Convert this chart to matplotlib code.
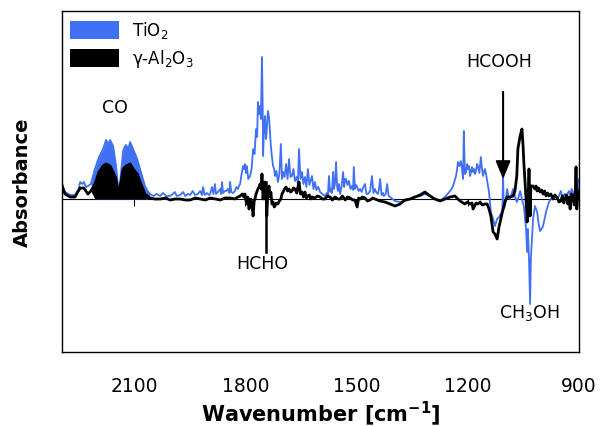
import numpy as np
import matplotlib
matplotlib.use('Agg')
from matplotlib import pyplot as plt
from matplotlib.patches import Patch

# spectra: (wavenumber [cm-1], absorbance [arb. units])
tio2 = [(2295, 0.12), (2287, 0.07), (2273, 0.04), (2260, 0.04), (2250, 0.10), (2246, 0.17),
        (2240, 0.15), (2236, 0.17), (2230, 0.12), (2225, 0.13), (2217, 0.15), (2206, 0.30),
        (2195, 0.42), (2184, 0.50), (2176, 0.59), (2170, 0.55), (2165, 0.59), (2157, 0.53),
        (2149, 0.33), (2144, 0.13), (2138, 0.17), (2130, 0.48), (2126, 0.52), (2122, 0.54),
        (2116, 0.50), (2111, 0.57), (2103, 0.50), (2092, 0.40), (2082, 0.27), (2071, 0.13),
        (2064, 0.08), (2057, 0.05), (2048, 0.03), (2040, 0.05), (2030, 0.03), (2022, 0.06),
        (2014, 0.03), (2003, 0.03), (1996, 0.05), (1990, 0.07), (1985, 0.03), (1976, 0.04),
        (1968, 0.07), (1962, 0.03), (1955, 0.05), (1949, 0.04), (1942, 0.08), (1936, 0.04),
        (1928, 0.05), (1922, 0.08), (1917, 0.04), (1914, 0.12), (1910, 0.04), (1904, 0.06),
        (1898, 0.04), (1895, 0.05), (1890, 0.12), (1886, 0.05), (1882, 0.15), (1879, 0.05),
        (1874, 0.07), (1868, 0.10), (1865, 0.05), (1863, 0.17), (1860, 0.06), (1855, 0.08),
        (1852, 0.08), (1847, 0.10), (1843, 0.06), (1841, 0.17), (1838, 0.07), (1833, 0.06),
        (1828, 0.08), (1824, 0.12), (1820, 0.10), (1816, 0.14), (1814, 0.15), (1810, 0.25),
        (1806, 0.33), (1803, 0.30), (1801, 0.35), (1798, 0.26), (1796, 0.33), (1792, 0.20),
        (1787, 0.23), (1783, 0.30), (1779, 0.50), (1775, 0.45), (1771, 0.70), (1768, 0.62),
        (1766, 0.97), (1763, 0.85), (1760, 0.93), (1758, 0.80), (1755, 1.42), (1753, 0.90),
        (1752, 0.43), (1749, 0.75), (1747, 0.83), (1744, 0.60), (1742, 0.70), (1739, 0.88),
        (1736, 0.82), (1733, 0.65), (1731, 0.53), (1728, 0.42), (1725, 0.33), (1722, 0.30),
        (1720, 0.23), (1716, 0.28), (1712, 0.17), (1708, 0.25), (1704, 0.55), (1701, 0.20),
        (1698, 0.27), (1694, 0.22), (1690, 0.35), (1686, 0.20), (1682, 0.40), (1678, 0.22),
        (1674, 0.23), (1670, 0.30), (1666, 0.18), (1661, 0.22), (1658, 0.15), (1655, 0.50),
        (1651, 0.20), (1647, 0.27), (1643, 0.15), (1639, 0.22), (1635, 0.12), (1631, 0.30),
        (1627, 0.14), (1624, 0.18), (1620, 0.23), (1616, 0.10), (1612, 0.17), (1608, 0.09),
        (1603, 0.12), (1598, 0.07), (1592, 0.05), (1585, 0.03), (1580, 0.06), (1577, 0.04),
        (1574, 0.23), (1571, 0.07), (1568, 0.10), (1566, 0.06), (1563, 0.27), (1561, 0.10),
        (1558, 0.15), (1555, 0.37), (1552, 0.12), (1550, 0.08), (1547, 0.15), (1544, 0.05),
        (1540, 0.12), (1536, 0.27), (1533, 0.12), (1530, 0.20), (1528, 0.20), (1524, 0.14),
        (1520, 0.18), (1516, 0.10), (1512, 0.13), (1509, 0.09), (1507, 0.32), (1504, 0.10),
        (1501, 0.14), (1498, 0.12), (1494, 0.08), (1490, 0.10), (1486, 0.07), (1481, 0.12),
        (1477, 0.15), (1473, 0.05), (1469, 0.05), (1463, 0.08), (1458, 0.23), (1454, 0.06),
        (1450, 0.10), (1447, 0.07), (1442, 0.05), (1439, 0.10), (1436, 0.20), (1432, 0.04),
        (1428, 0.06), (1426, 0.03), (1421, 0.05), (1417, 0.15), (1413, 0.03), (1409, 0.02),
        (1396, -0.02), (1382, -0.03), (1369, -0.02), (1355, 0.00), (1342, 0.02), (1328, 0.03),
        (1315, 0.05), (1301, 0.03), (1288, 0.00), (1274, -0.02), (1261, 0.02), (1247, 0.08),
        (1243, 0.10), (1239, 0.13), (1235, 0.18), (1231, 0.23), (1228, 0.30), (1226, 0.37),
        (1222, 0.33), (1218, 0.38), (1215, 0.30), (1212, 0.20), (1210, 0.68), (1207, 0.25),
        (1204, 0.27), (1201, 0.35), (1199, 0.30), (1196, 0.33), (1193, 0.23), (1190, 0.28),
        (1188, 0.32), (1185, 0.27), (1182, 0.30), (1180, 0.25), (1177, 0.28), (1174, 0.35),
        (1172, 0.33), (1168, 0.26), (1164, 0.42), (1161, 0.30), (1158, 0.23), (1155, 0.28),
        (1153, 0.30), (1150, 0.25), (1147, 0.18), (1142, 0.07), (1137, -0.13), (1131, -0.20),
        (1126, -0.27), (1120, -0.20), (1115, -0.18), (1110, -0.15), (1106, -0.12), (1104, 0.23),
        (1102, -0.10), (1099, -0.07), (1093, 0.10), (1089, 0.02), (1085, 0.00), (1081, 0.05),
        (1077, 0.10), (1072, 0.03), (1067, -0.03), (1062, 0.02), (1058, 0.08), (1053, 0.00),
        (1048, -0.07), (1042, -0.30), (1039, -0.53), (1037, -0.30), (1034, -0.60), (1031, -1.05),
        (1029, -0.60), (1023, -0.20), (1018, -0.07), (1012, -0.13), (1008, -0.25), (1004, -0.32),
        (1000, -0.30), (996, -0.27), (992, -0.20), (988, -0.13), (984, -0.08), (980, -0.03),
        (975, 0.00), (969, 0.02), (964, 0.04), (958, 0.00), (953, 0.03), (948, 0.08),
        (944, 0.02), (940, 0.04), (937, 0.05), (933, 0.01), (929, 0.06), (926, 0.08),
        (922, 0.03), (919, 0.10), (915, 0.07), (912, 0.03), (907, 0.10), (904, 0.00),
        (902, 0.20), (899, 0.05)]

al2o3 = [(2295, 0.14), (2287, 0.05), (2273, 0.02), (2260, 0.02), (2246, 0.11), (2236, 0.11),
         (2225, 0.05), (2217, 0.08), (2206, 0.15), (2195, 0.27), (2184, 0.33), (2176, 0.35),
         (2165, 0.33), (2157, 0.27), (2149, 0.20), (2144, 0.07), (2138, 0.12), (2130, 0.30),
         (2122, 0.33), (2111, 0.35), (2103, 0.30), (2092, 0.25), (2082, 0.15), (2071, 0.05),
         (2057, 0.01), (2045, 0.00), (2030, 0.00), (2015, 0.01), (2003, -0.01), (1990, 0.00),
         (1976, 0.00), (1962, -0.01), (1949, -0.01), (1935, 0.01), (1922, 0.00), (1908, -0.01),
         (1895, 0.01), (1880, 0.00), (1868, -0.01), (1855, 0.01), (1841, 0.01), (1828, 0.00),
         (1820, 0.02), (1814, 0.03), (1808, 0.05), (1804, 0.02), (1801, 0.05), (1798, -0.02),
         (1796, -0.05), (1793, 0.02), (1790, -0.10), (1787, -0.03), (1785, 0.00), (1782, -0.05),
         (1779, -0.17), (1776, -0.02), (1774, 0.00), (1771, 0.05), (1768, 0.08), (1766, 0.10),
         (1763, 0.12), (1760, 0.15), (1757, 0.10), (1755, 0.25), (1752, 0.00), (1749, 0.14),
         (1747, 0.17), (1744, 0.05), (1742, -0.17), (1739, 0.08), (1736, 0.13), (1733, 0.02),
         (1731, 0.07), (1728, -0.05), (1725, -0.03), (1722, -0.08), (1720, -0.07), (1716, -0.04),
         (1712, -0.05), (1708, -0.02), (1704, 0.00), (1701, 0.05), (1698, 0.07), (1694, 0.10),
         (1690, 0.12), (1686, 0.08), (1682, 0.10), (1678, 0.07), (1674, 0.08), (1670, 0.11),
         (1666, 0.10), (1661, 0.06), (1658, 0.12), (1655, 0.17), (1651, 0.05), (1647, 0.07),
         (1643, 0.02), (1639, 0.07), (1635, 0.01), (1631, 0.03), (1627, 0.04), (1624, 0.00),
         (1620, 0.02), (1612, 0.01), (1605, 0.03), (1598, 0.02), (1592, 0.00), (1585, 0.00),
         (1578, 0.03), (1571, 0.02), (1565, -0.01), (1558, 0.02), (1550, 0.00), (1544, 0.00),
         (1538, 0.03), (1530, -0.01), (1524, 0.02), (1517, 0.01), (1510, -0.01), (1504, -0.01),
         (1498, -0.08), (1494, 0.01), (1490, 0.00), (1484, 0.02), (1477, 0.01), (1470, -0.02),
         (1463, -0.01), (1456, 0.01), (1450, 0.00), (1443, -0.01), (1436, -0.02), (1423, -0.03),
         (1409, -0.05), (1396, -0.07), (1382, -0.05), (1369, -0.01), (1355, 0.00), (1342, 0.02),
         (1328, 0.04), (1315, 0.07), (1301, 0.03), (1288, 0.00), (1274, -0.02), (1261, 0.00),
         (1247, 0.02), (1234, 0.03), (1226, 0.00), (1220, -0.02), (1207, -0.05), (1200, -0.03),
         (1193, -0.05), (1188, -0.04), (1185, -0.10), (1177, -0.04), (1172, -0.05), (1166, -0.03),
         (1160, -0.06), (1153, -0.05), (1147, -0.05), (1142, -0.10), (1137, -0.17), (1131, -0.33),
         (1126, -0.35), (1120, -0.40), (1115, -0.28), (1110, -0.20), (1104, -0.10), (1099, -0.03),
         (1093, 0.02), (1085, 0.02), (1077, 0.03), (1072, 0.08), (1067, 0.23), (1064, 0.50),
         (1058, 0.63), (1053, 0.70), (1050, 0.53), (1048, 0.37), (1042, 0.00), (1039, -0.23),
         (1037, -0.07), (1034, 0.30), (1031, -0.17), (1029, 0.13), (1023, 0.13), (1018, 0.10),
         (1015, 0.13), (1012, 0.08), (1008, 0.11), (1004, 0.07), (1000, 0.09), (996, 0.05),
         (992, 0.08), (988, 0.03), (984, 0.06), (980, 0.03), (975, 0.05), (969, 0.00),
         (964, 0.04), (958, 0.01), (953, -0.03), (948, -0.02), (944, 0.03), (940, -0.04),
         (937, 0.00), (933, 0.04), (929, -0.05), (926, 0.02), (923, -0.10), (919, 0.05),
         (915, 0.03), (912, -0.06), (910, -0.05), (907, 0.32), (905, -0.10), (902, 0.08),
         (899, 0.00)]

tick_vals = [2100, 1800, 1500, 1200, 900]
co_band = (2060, 2215)  # gas-phase CO rotational lines, drawn as a filled band

blue = '#4070F4'

ti_wn, ti_abs = map(np.array, zip(*tio2))
al_wn, al_abs = map(np.array, zip(*al2o3))

fig = plt.figure(figsize=(6, 4.27), dpi=100)
ax = fig.add_axes([0.1033, 0.1733, 0.8617, 0.7986])

ti_mask = (ti_wn >= co_band[0]) & (ti_wn <= co_band[1])
al_mask = (al_wn >= co_band[0]) & (al_wn <= co_band[1])

ax.fill_between(ti_wn, ti_abs, 0, where=ti_mask, color=blue, lw=0, interpolate=True)
ax.plot(ti_wn, ti_abs, color=blue, lw=1.3)
ax.fill_between(al_wn, al_abs, 0, where=al_mask, color='black', lw=0, interpolate=True)
ax.plot(al_wn, al_abs, color='black', lw=2.0)

ax.set_xlim(2295, 899)
ax.set_ylim(-1.53, 1.88)

# zero line with small ticks
sec = ax.secondary_xaxis(1.53 / 3.41)
sec.set_xticks(tick_vals)
sec.tick_params(direction='out', length=5, width=0.8, labelbottom=False, labeltop=False)
sec.spines['bottom'].set_linewidth(0.8)

ax.set_xticks(tick_vals)
ax.set_xticklabels([str(v) for v in tick_vals])
ax.tick_params(axis='x', length=0, pad=17, labelsize=13.5)
ax.set_yticks([])
for s in ax.spines.values():
    s.set_linewidth(1.0)

ax.set_xlabel('Wavenumber [cm$^{\\mathbf{-1}}$]', fontsize=15, fontweight='bold', labelpad=3)
ax.set_ylabel('Absorbance', fontsize=14, fontweight='bold', labelpad=22)

# band assignments
ax.text(2152, 0.92, 'CO', fontsize=12.5, ha='center', va='center')
ax.text(1755, -0.64, 'HCHO', fontsize=12.5, ha='center', va='center')
ax.plot([1744, 1744], [0.17, -0.53], color='black', lw=1.8)
ax.text(1115, 1.38, 'HCOOH', fontsize=12.5, ha='center', va='center')
ax.annotate('', xy=(1104, 0.17), xytext=(1104, 1.10),
            arrowprops=dict(arrowstyle='-|>,head_length=1.1,head_width=0.45',
                            color='black', lw=1.5))
ax.text(1034, -1.13, 'CH$_3$OH', fontsize=12.5, ha='center', va='center')

handles = [Patch(facecolor=blue, edgecolor='none'), Patch(facecolor='black', edgecolor='none')]
ax.legend(handles, ['TiO$_2$', 'γ-Al$_2$O$_3$'], loc='upper left', frameon=False,
          fontsize=12, handlelength=2.9, handleheight=1.25, labelspacing=0.42,
          handletextpad=0.8, borderaxespad=0.3, borderpad=0.2)

fig.savefig('out.png', dpi=100)
